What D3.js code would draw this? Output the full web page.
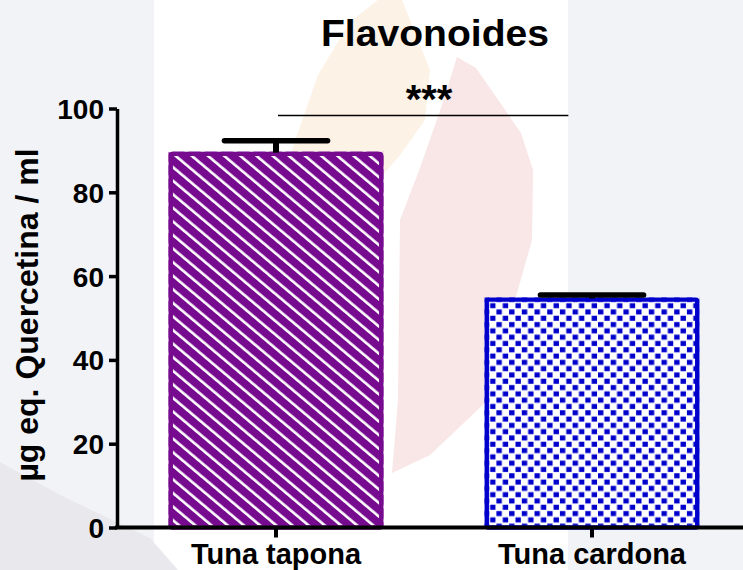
<!DOCTYPE html>
<html>
<head>
<meta charset="utf-8">
<script src="https://cdn.jsdelivr.net/npm/d3@7"></script>
<style>
  html, body { margin: 0; padding: 0; background: #fff; }
  svg { display: block; }
  text { font-family: "Liberation Sans", Arial, Helvetica, sans-serif; font-weight: bold; }
</style>
</head>
<body>
<div id="chart"></div>
<script>
// data
var categories = ["Tuna tapona", "Tuna cardona"];
var means = [89.7, 54.9];
var sems = [2.6, 0.6];
var yTicks = [0, 20, 40, 60, 80, 100];
var title = "Flavonoides";
var yTitle = "\u00b5g eq. Quercetina / ml";
var signif = "***";
var signifLevel = 98.3;

var width = 743, height = 570;

var svg = d3.select("#chart").append("svg")
    .attr("width", width)
    .attr("height", height);

// faint watermark background
svg.append("rect").attr("width", width).attr("height", height).attr("fill", "#f2f3f7");
svg.append("rect").attr("x", 154).attr("y", 0).attr("width", 414).attr("height", height).attr("fill", "#ffffff");
svg.append("path")
    .attr("d", "M0,462 L60,495 L150,538 L178,570 L0,570 Z")
    .attr("fill", "#e8e8ed");
svg.append("path")
    .attr("d", "M378,0 L402,0 L430,70 L425,120 L400,155 L383,175 L300,330 L282,290 L292,150 L318,75 L350,22 Z")
    .attr("fill", "#fdf2e6");
svg.append("path")
    .attr("d", "M457,57 L476,68 L521,133 L533,170 L532,240 L515,300 L488,400 L430,455 L392,473 L398,400 L400,220 L420,168 L442,105 Z")
    .attr("fill", "#f9e6e6");

var x = d3.scaleBand()
    .domain(categories)
    .range([118, 750])
    .paddingInner(0.32)
    .paddingOuter(0.16);

var y = d3.scaleLinear()
    .domain([0, 100])
    .range([527.5, 108.5]);

var bw = x.bandwidth();
var data = categories.map(function(c, i) { return { cat: c, mean: means[i], sem: sems[i] }; });

// patterns
var defs = svg.append("defs");
var stripes = defs.append("pattern")
    .attr("id", "stripes")
    .attr("patternUnits", "userSpaceOnUse")
    .attr("width", 10.4)
    .attr("height", 10.4)
    .attr("patternTransform", "translate(" + x(categories[0]) + "," + y(means[0]) + ") rotate(-50)");
stripes.append("rect").attr("width", 10.4).attr("height", 10.4).attr("fill", "#770b8f");
stripes.append("rect").attr("x", 0).attr("width", 2.6).attr("height", 10.4).attr("fill", "#ffffff");

var checks = defs.append("pattern")
    .attr("id", "checks")
    .attr("patternUnits", "userSpaceOnUse")
    .attr("x", x(categories[1]) + 5)
    .attr("y", y(means[1]) + 5)
    .attr("width", 12.7)
    .attr("height", 12.6);
checks.append("rect").attr("width", 12.7).attr("height", 12.6).attr("fill", "#ffffff");
checks.append("rect").attr("x", 0.5).attr("y", 0.7).attr("width", 5.4).attr("height", 5).attr("fill", "#0000cc");
checks.append("rect").attr("x", 6.85).attr("y", 7.0).attr("width", 5.4).attr("height", 5).attr("fill", "#0000cc");

var fills = ["url(#stripes)", "url(#checks)"];
var strokes = ["#770b8f", "#0000cc"];

// bars
svg.selectAll("rect.bar")
    .data(data)
    .enter()
    .append("rect")
    .attr("class", "bar")
    .attr("x", function(d) { return x(d.cat); })
    .attr("y", function(d) { return y(d.mean); })
    .attr("width", bw)
    .attr("height", function(d) { return y(0) - y(d.mean); })
    .attr("fill", function(d, i) { return fills[i]; });

svg.selectAll("rect.barEdge")
    .data(data)
    .enter()
    .append("rect")
    .attr("class", "barEdge")
    .attr("x", function(d) { return x(d.cat) + 2.2; })
    .attr("y", function(d) { return y(d.mean) + 2.2; })
    .attr("width", bw - 4.4)
    .attr("height", function(d) { return y(0) - y(d.mean) - 2.2; })
    .attr("rx", 1.5)
    .attr("fill", "none")
    .attr("stroke", function(d, i) { return strokes[i]; })
    .attr("stroke-width", 4.4);

// error bars (upper only)
svg.selectAll("line.stem")
    .data(data)
    .enter()
    .append("line")
    .attr("class", "stem")
    .attr("x1", function(d) { return x(d.cat) + bw / 2; })
    .attr("x2", function(d) { return x(d.cat) + bw / 2; })
    .attr("y1", function(d) { return y(d.mean) + 1; })
    .attr("y2", function(d) { return y(d.mean + d.sem); })
    .attr("stroke", "#000")
    .attr("stroke-width", 6);

svg.selectAll("line.cap")
    .data(data)
    .enter()
    .append("line")
    .attr("class", "cap")
    .attr("x1", function(d) { return x(d.cat) + bw * 0.26; })
    .attr("x2", function(d) { return x(d.cat) + bw * 0.74; })
    .attr("y1", function(d) { return y(d.mean + d.sem); })
    .attr("y2", function(d) { return y(d.mean + d.sem); })
    .attr("stroke", "#000")
    .attr("stroke-width", 5.5)
    .attr("stroke-linecap", "round");

// axes
var yAxis = svg.append("g")
    .attr("transform", "translate(117,0)")
    .call(d3.axisLeft(y).tickValues(yTicks).tickSize(8).tickSizeOuter(0).tickPadding(5));
yAxis.select(".domain").attr("stroke", "#000").attr("stroke-width", 3.5);
yAxis.selectAll(".tick line").attr("stroke", "#000").attr("stroke-width", 3.5);
yAxis.selectAll(".tick text")
    .attr("font-size", 28)
    .attr("font-family", null)
    .attr("fill", "#000")
    .attr("dy", "0.36em");

var xAxis = svg.append("g")
    .attr("transform", "translate(0," + y(0) + ")")
    .call(d3.axisBottom(x).tickSize(10).tickSizeOuter(0).tickPadding(8));
xAxis.select(".domain").attr("stroke", "#000").attr("stroke-width", 4.2).attr("d", "M115,0H760");
xAxis.selectAll(".tick line").attr("stroke", "#000").attr("stroke-width", 4);
xAxis.selectAll(".tick text")
    .attr("font-size", 29)
    .attr("font-family", null)
    .attr("fill", "#000")
    .attr("y", 36)
    .attr("dy", 0);

// titles
svg.append("text")
    .attr("x", 435)
    .attr("y", 46)
    .attr("text-anchor", "middle")
    .attr("font-size", 36)
    .attr("textLength", 228)
    .attr("lengthAdjust", "spacingAndGlyphs")
    .text(title);

svg.append("text")
    .attr("transform", "translate(38,315) rotate(-90)")
    .attr("text-anchor", "middle")
    .attr("font-size", 32)
    .text(yTitle);

// significance bracket
var sx1 = x(categories[0]) + bw / 2 + 2;
var sx2 = x(categories[1]) + bw * 0.39;
svg.append("line")
    .attr("x1", sx1).attr("x2", sx2)
    .attr("y1", y(signifLevel)).attr("y2", y(signifLevel))
    .attr("stroke", "#000")
    .attr("stroke-width", 1.5);
svg.append("text")
    .attr("x", 429)
    .attr("y", 113)
    .attr("text-anchor", "middle")
    .attr("font-size", 40)
    .text(signif);
</script>
</body>
</html>
